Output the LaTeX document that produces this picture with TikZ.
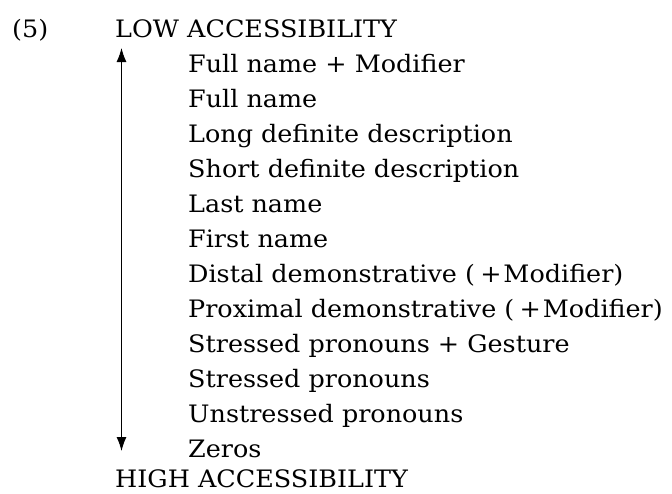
\documentclass[tikz,border=0pt]{standalone}
\usepackage{fontspec}
\setmainfont{DejaVu Serif}[FakeStretch=1.06]
\usetikzlibrary{arrows.meta}
\tikzset{
  lbl/.style={anchor=base west, inner sep=0pt, font=\fontsize{24}{29}\selectfont},
  itm/.style={lbl},
  scalearrow/.style={{Latex[length=14pt,width=10pt]}-{Latex[length=14pt,width=10pt]}, line width=1.1pt}
}
\begin{document}
\begin{tikzpicture}[x=1pt,y=-1pt]
\useasboundingbox (0,0) rectangle (672,493);
\node[lbl] (num) at (12,37) {(5)};
\node[lbl] (low) at (115,37) {LOW ACCESSIBILITY};
\node[itm] (i1) at (188,72) {Full name + Modifier};
\node[itm] (i2) at (188,107) {Full name};
\node[itm] (i3) at (188,142) {Long definite description};
\node[itm] (i4) at (188,177) {Short definite description};
\node[itm] (i5) at (188,212) {Last name};
\node[itm] (i6) at (188,247) {First name};
\node[itm] (i7) at (188,282) {Distal demonstrative (\hspace{0.22em}+\hspace{0.08em}Modifier)};
\node[itm] (i8) at (188,317) {Proximal demonstrative (\hspace{0.22em}+\hspace{0.08em}Modifier)};
\node[itm] (i9) at (188,352) {Stressed pronouns + Gesture};
\node[itm] (i10) at (188,387) {Stressed pronouns};
\node[itm] (i11) at (188,422) {Unstressed pronouns};
\node[itm] (i12) at (188,457) {Zeros};
\node[lbl] (high) at (115,487) {HIGH ACCESSIBILITY};
\coordinate (atop) at (121.5,48);
\coordinate (abot) at (121.5,451);
\draw[scalearrow] (atop) -- (abot);
\end{tikzpicture}
\end{document}
